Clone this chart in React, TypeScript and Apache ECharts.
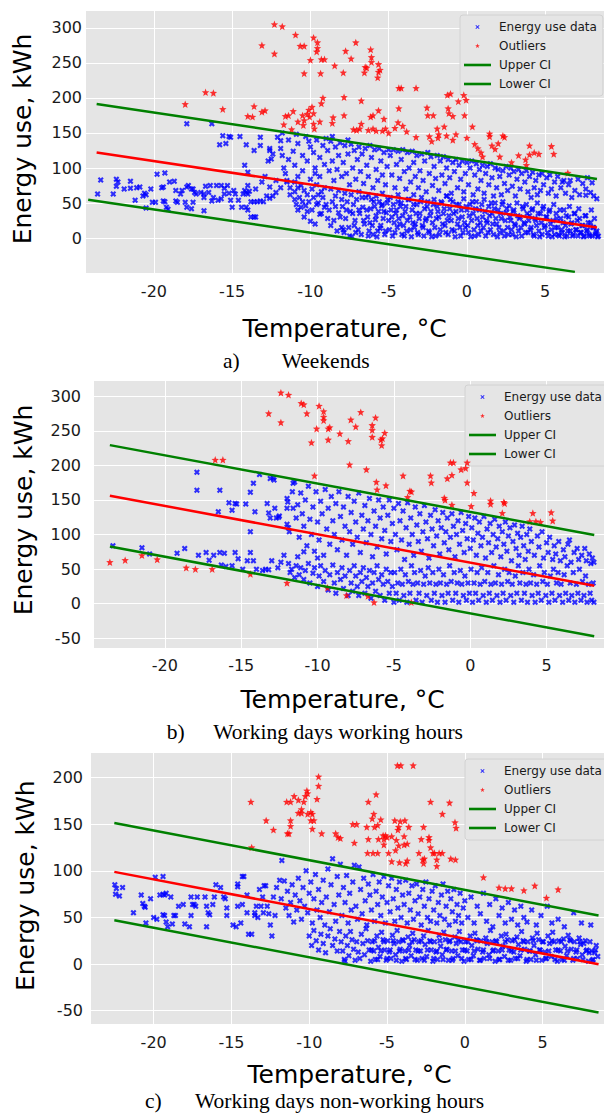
import React, { useEffect, useRef } from "react";
import * as echarts from "echarts";

// ---------- Panel a) Weekends ----------
const aBlueSparse = [
[-23.6,63],[-23.4,83],[-22.6,63],[-22.4,84],[-22.4,74],[-22.3,80],[-21.9,70],[-21.5,81],[-21.5,71],[-21.2,54],[-21.1,72],[-20.9,73],[-20.7,60],[-20.6,64],[-20.5,62],[-20.5,43],[-20.2,70],[-20.1,51],[-19.9,51],[-19.8,91],[-19.3,93],[-19.5,72],[-19.4,73],[-19.0,80],[-19.4,53],[-19.3,52],[-19.2,44],[-19.1,41],[-18.7,81],[-18.6,68],[-18.6,53],[-18.5,51],[-18.3,63],[-18.2,68],[-18.0,51],[-17.9,44],[-17.9,73],[-17.8,75],[-17.6,70],[-17.5,70],[-17.6,42],[-17.4,65],[-17.3,63],[-17.5,51],[-17.0,65],[-16.8,63],[-16.7,74],[-16.8,58],[-16.8,39],[-16.5,65],[-16.4,75],[-16.3,53],[-16.2,58],[-16.0,75],[-15.9,54],[-15.7,75],[-15.5,71],[-15.7,56],[-15.5,63],[-15.3,75],[-15.2,64],[-15.1,54],[-15.0,44],[-14.9,68],[-14.8,63],[-14.6,54],[-14.4,44],[-14.3,63],[-14.2,68],[-14.1,65],[-14.0,63],[-13.9,67],[-14.1,44],[-14.0,40],[-13.8,30],[-13.6,30],[-13.5,30],[-13.8,52],[-13.6,52],[-13.4,52],[-13.2,53],[-13.0,52],[-12.8,60],[-12.6,57],[-12.4,60],[-12.2,65],
[-17.9,163],[-16.3,163],[-15.8,133],[-15.6,146],[-15.2,145],[-15.1,144],[-15.4,135],[-14.5,145],[-14.1,133],[-13.6,125],[-14.2,104],[-14.0,94],[-13.2,144],[-13.2,132],[-12.6,128],[-12.4,120],[-12.5,113],[-12.7,110],[-12.1,144],[-11.9,139],[-11.8,150],[-12.6,125],
[-12.6,73],[-12.2,82],[-11.9,72],[-11.5,82],[-11.3,72],[-11.0,80],[-10.8,72],[-14.0,75],[-13.5,70],[-13.1,80],[-12.9,88]
];
const aBlueMid = [
[-11.9,128],[-11.8,118],[-11.7,100],[-11.6,92],[-11.4,140],[-11.4,112],[-11.1,124],[-11.0,104],[-10.8,135],[-10.8,88],[-10.5,118],[-10.5,96],[-10.4,68],[-10.3,145],[-10.2,110],[-10.0,130],[-10.0,84],[-9.9,70],[-9.8,122],[-9.7,100],[-9.6,140],[-9.6,76],[-9.4,115],[-9.4,88],[-9.3,66],[-9.2,132],[-9.1,105],[-9.1,72],[-9.0,142],[-11.3,62],[-11.0,66],[-10.2,62],[-9.5,62],[-10.6,75],[-11.5,80],[-9.7,92],[-10.9,148],[-10.1,138],
[-8.9,125],[-8.8,96],[-8.7,138],[-8.7,70],[-8.6,110],[-8.5,82],[-8.4,130],[-8.4,60],[-8.3,98],[-8.2,118],[-8.2,68],[-8.1,136],[-8.0,88],[-7.9,108],[-7.8,132],[-7.8,64],[-7.7,92],[-7.6,120],[-7.5,76],[-7.4,134],[-7.4,62],[-7.3,100],[-7.2,125],[-7.1,84],[-7.0,112],[-6.9,130],[-6.9,66],[-6.8,95],[-6.7,120],[-6.6,78],[-6.5,128],[-6.4,104],[-6.3,88],[-6.3,62],[-6.2,132],[-6.1,115],[-6.0,72],[-5.9,126],[-5.8,98],[-5.8,60],[-5.7,82],[-5.6,128],[-5.5,110],[-5.4,90],[-5.4,64],[-5.3,122],[-5.2,76],[-5.1,102],[-5.0,126],[-8.6,145],[-7.6,140],
[-4.9,118],[-4.8,90],[-4.7,126],[-4.6,72],[-4.5,105],[-4.4,124],[-4.4,62],[-4.3,85],[-4.2,112],[-4.1,126],[-4.0,95],[-3.9,70],[-3.8,122],[-3.7,100],[-3.6,80],[-3.5,124],[-3.4,108],[-3.4,62],[-3.3,88],[-3.2,118],[-3.1,72],[-3.0,96],[-2.9,120],[-2.8,82],[-2.7,110],[-2.6,66],[-2.5,122],[-2.4,92],[-2.3,116],[-2.2,75],[-2.1,102],[-2.0,85],[-1.9,118],[-1.8,68],[-1.7,110],[-1.6,90],[-1.5,116],[-1.4,78],[-1.3,100],[-1.3,60],[-1.2,112],[-1.1,86],[-1.0,64],[-0.9,108],[-0.8,95],[-0.7,112],[-0.6,72],[-0.5,104],[-0.4,84],[-0.3,110],[-0.2,66],[-0.1,92],[0.0,108],
[0.1,76],[0.2,100],[0.3,110],[0.4,62],[0.5,90],[0.6,106],[0.7,70],[0.8,98],[0.9,82],[1.0,104],[1.1,64],[1.2,92],[1.3,102],[1.4,76],[1.5,106],[1.6,86],[1.7,60],[1.8,100],[1.9,72],[2.0,98],[2.1,88],[2.2,62],[2.3,96],[2.4,78],[2.5,102],[2.6,68],[2.7,90],[2.8,100],[2.9,74],[3.0,95],[3.1,60],[3.2,84],[3.3,98],[3.4,70],[3.5,92],[3.7,80],[3.8,96],[3.9,66],[4.0,88],
[4.1,58],[4.2,94],[4.3,72],[4.4,82],[4.5,62],[4.6,90],[4.7,68],[4.8,92],[4.9,76],[5.1,86],[5.2,64],[5.3,90],[5.4,70],[5.6,80],[5.7,60],[5.8,88],[6.0,72],[6.1,80],[6.2,82],[6.3,64],[6.5,76],[6.6,82],[6.7,58],[6.9,68],[7.1,84],[7.2,62],[7.4,78],[7.6,70],[7.6,61],[7.7,86],[7.9,65],[8.0,79],[8.1,60],[8.3,56]
];
const aBlueLow = [
[-11.0,55],[-10.9,48],[-10.8,40],[-10.7,58],[-10.6,44],[-10.5,52],[-10.4,30],[-10.3,46],[-10.2,38],[-10.1,52],[-10.0,24],[-9.9,40],[-9.8,58],[-9.7,20],[-9.6,48],[-9.5,50],[-9.4,34],[-9.3,35],[-9.2,58],[-9.1,44],[-9.0,48],[-8.9,28],[-8.8,40],[-8.7,18],[-8.6,52],[-8.5,25],[-8.4,45],[-8.3,10],[-8.2,36],[-8.1,30],[-8.0,55],[-8.0,15],
[-7.95,45],[-7.9,12],[-7.85,8],[-7.75,28],[-7.7,40],[-7.65,52],[-7.55,15],[-7.5,3],[-7.45,38],[-7.35,2],[-7.3,35],[-7.25,48],[-7.2,18],[-7.15,25],[-7.05,55],[-7.1,8],[-6.95,12],[-6.9,40],[-6.85,35],[-6.75,5],[-6.7,58],[-6.65,44],[-6.6,25],[-6.55,20],[-6.45,58],[-6.4,40],[-6.35,30],[-6.3,3],[-6.25,10],[-6.2,22],[-6.15,42],[-6.1,55],[-6.05,18],[-6.0,5],[-5.95,52],[-5.9,45],[-5.85,26],[-5.8,32],[-5.75,2],[-5.7,10],[-5.65,38],[-5.6,52],[-5.55,14],[-5.5,18],[-5.45,46],[-5.4,48],[-5.35,28],[-5.3,38],[-5.25,5],[-5.2,10],[-5.15,36],[-5.1,50],[-5.05,55],[-5.0,25],
[-4.95,12],[-4.9,58],[-4.85,40],[-4.8,30],[-4.75,3],[-4.7,48],[-4.65,22],[-4.6,8],[-4.55,35],[-4.5,40],[-4.45,15],[-4.4,52],[-4.35,28],[-4.3,20],[-4.25,45],[-4.2,50],[-4.15,5],[-4.1,32],[-4.05,18],[-4.0,3],[-3.95,38],[-3.9,45],[-3.85,10],[-3.8,25],[-3.75,55],[-3.7,55],[-3.65,30],[-3.6,12],[-3.55,2],[-3.5,40],[-3.45,22],[-3.4,48],[-3.35,15],[-3.3,20],[-3.25,35],[-3.2,48],[-3.15,8],[-3.1,5],[-3.05,28],[-3.0,35],[-2.95,52],[-2.9,58],[-2.85,18],[-2.8,15],[-2.75,3],[-2.7,42],[-2.65,25],[-2.6,28],[-2.55,45],[-2.5,52],[-2.45,10],[-2.4,8],[-2.35,32],[-2.3,38],[-2.25,2],[-2.2,22],[-2.15,48],[-2.1,55],[-2.05,15],[-2.0,3],[-1.95,28],[-1.9,45],[-1.85,38],[-1.8,30],[-1.75,5],[-1.7,12],[-1.65,52],[-1.6,50],[-1.55,20],[-1.5,35],[-1.45,42],[-1.4,18],[-1.35,8],[-1.3,60],[-1.25,25],[-1.2,5],[-1.15,32],[-1.1,42],[-1.05,55],[-1.0,25],[-0.95,12],[-0.9,52],[-0.85,35],[-0.8,10],[-0.75,2],[-0.7,38],[-0.65,48],[-0.6,20],[-0.55,28],[-0.5,48],[-0.45,15],[-0.4,3],[-0.35,40],[-0.3,30],[-0.25,8],[-0.2,56],[-0.15,22],[-0.1,15],[-0.05,45],[0.0,40],
[0.05,18],[0.1,8],[0.15,32],[0.2,48],[0.25,2],[0.3,25],[0.35,52],[0.4,35],[0.45,12],[0.5,3],[0.55,42],[0.6,52],[0.65,28],[0.7,18],[0.75,5],[0.8,40],[0.85,22],[0.9,10],[0.95,48],[1.0,30],[1.05,15],[1.1,55],[1.15,38],[1.2,3],[1.25,25],[1.3,22],[1.35,8],[1.4,45],[1.45,32],[1.5,12],[1.55,50],[1.6,35],[1.65,20],[1.7,5],[1.75,42],[1.8,50],[1.85,28],[1.9,20],[1.95,2],[2.0,40],[2.05,15],[2.1,8],[2.15,35],[2.2,28],[2.25,48],[2.3,52],[2.35,10],[2.4,3],[2.45,25],[2.5,36],[2.55,42],[2.6,15],[2.65,5],[2.7,46],[2.75,30],[2.8,25],[2.85,12],[2.9,5],[2.95,38],[3.0,40],[3.05,20],[3.1,18],[3.15,2],[3.2,50],[3.25,32],[3.3,10],[3.35,28],[3.4,30],[3.45,15],[3.5,3],[3.55,45],[3.6,42],[3.65,22],[3.7,20],[3.75,8],[3.8,48],[3.85,35],[3.9,8],[3.95,25],[4.0,32],
[4.05,12],[4.1,15],[4.15,40],[4.2,42],[4.25,5],[4.3,3],[4.35,28],[4.4,25],[4.45,18],[4.5,50],[4.55,35],[4.6,10],[4.65,2],[4.7,35],[4.75,22],[4.8,5],[4.85,42],[4.9,45],[4.95,15],[5.0,18],[5.05,30],[5.1,30],[5.15,8],[5.2,3],[5.25,38],[5.3,40],[5.35,20],[5.4,12],[5.45,2],[5.5,25],[5.55,48],[5.6,5],[5.65,15],[5.7,35],[5.75,28],[5.8,15],[5.85,5],[5.9,3],[5.95,40],[6.0,28],[6.05,12],[6.1,8],[6.15,22],[6.2,40],[6.25,2],[6.3,18],[6.35,32],[6.4,3],[6.45,10],[6.5,30],[6.55,45],[6.6,10],[6.65,20],[6.7,22],[6.75,3],[6.8,5],[6.85,35],[6.9,35],[6.95,12],[7.0,12],[7.05,25],[7.1,3],[7.15,42],[7.2,28],[7.25,8],[7.3,8],[7.35,18],[7.4,18],[7.45,2],[7.5,3],[7.55,32],[7.6,32],[7.65,10],[7.7,12],[7.75,22],[7.8,5],[7.85,3],[7.9,22],[7.95,40],[8.0,3],[8.05,15],[8.1,15],[8.15,28],[8.2,5],[8.25,8],[8.3,10],[8.35,2],[8.4,3]
];
const aOutliers = [
[-18.0,191],[-16.7,208],[-16.2,207],[-15.6,184],[-13.6,188],[-14.0,174],[-13.7,173],[-13.1,180],[-12.9,182],[-13.1,275],[-12.3,305],[-11.8,302],[-12.3,263],[-10.95,290],[-10.65,274],[-11.6,174],[-11.4,175],[-11.1,181],[-11.7,162],[-11.2,155],[-10.8,166],[-10.4,274],[-10.4,235],[-9.8,286],[-9.55,279],[-9.55,271],[-9.6,266],[-10.0,254],[-9.3,255],[-9.1,255],[-9.35,235],[-9.3,192],[-9.2,200],[-8.45,246],[-7.9,236],[-7.75,267],[-7.4,256],[-7.1,279],[-6.55,236],[-6.5,244],[-6.4,243],[-6.15,269],[-6.1,258],[-6.1,251],[-5.65,248],[-5.65,237],[-5.7,229],[-5.55,240],[-7.85,201],[-6.75,196],[-4.35,214],[-4.2,214],[-3.25,214],[-1.25,204],[-1.05,206],[-0.2,204],[-0.05,197],[-0.55,195],[-9.9,187],[-10.1,183],[-10.2,177],[-10.5,175],[-10.4,168],[-10.45,161],[-9.8,178],[-9.8,163],[-9.75,156],[-9.4,166],[-10.05,173],[-8.55,172],[-8.6,164],[-7.85,175],[-7.25,155],[-7.05,154],[-6.85,156],[-6.75,163],[-6.3,154],[-6.0,156],[-5.8,153],[-6.15,173],[-6.0,175],[-5.65,182],[-5.3,170],[-5.4,153],[-5.2,156],[-5.0,150],[-4.6,157],[-4.4,165],[-4.1,160],[-3.85,152],[-4.35,185],[-3.25,144],[-2.55,186],[-2.5,175],[-2.15,175],[-2.4,145],[-2.25,138],[-1.9,156],[-1.8,148],[-1.85,143],[-1.45,159],[-1.2,185],[-1.15,178],[-0.9,174],[-1.3,146],[-0.9,140],[-0.15,175],[-0.7,148],[0.0,143],[0.35,159],[0.5,134],[0.7,128],[0.9,122],[1.0,116],[1.45,149],[1.45,145],[2.3,146],[2.4,144],[1.6,132],[1.8,127],[2.0,135],[2.1,116],[2.85,108],[3.3,118],[3.8,104],[3.75,112],[4.0,132],[4.3,122],[4.6,120],[5.4,131],[5.55,120],[4.0,119],[6.45,93]
];
const aRegLine = [[-23.66,122.1],[8.31,15.2]];
const aUpperCI = [[-23.66,191.4],[8.31,84.4]];
const aLowerCI = [[-24.2,54.8],[6.9,-48.2]];

// ---------- Panel b) Working days working hours ----------
const bBlueSparse = [
[-23.4,84],[-21.5,81],[-21.0,72],[-19.2,73],[-18.7,80],[-17.8,70],[-17.3,74],[-17.1,63],[-16.8,70],[-16.4,74],[-16.1,73],[-16.0,54],[-15.4,74],[-15.2,65],[-14.4,74],[-14.6,62],[-14.2,62],[-14.0,50],[-13.6,48],[-13.4,50],[-13.2,49],[-12.6,52],[-12.4,60],[-12.2,70],[-13.0,62],[-14.9,50],[-15.6,55],[-16.3,56],
[-17.9,190],[-17.9,164],[-16.4,164],[-16.5,133],[-15.8,146],[-15.4,145],[-15.3,144],[-15.6,135],[-14.7,144],[-14.4,161],[-14.1,133],[-14.2,174],[-13.8,187],[-14.4,104],[-13.3,145],[-13.2,131],[-13.1,124],[-13.1,181],[-12.9,182],[-12.85,179],[-12.8,138],[-12.7,124],[-12.55,125],[-12.5,127]
];
const bBlueMid = [
[-12.0,152],[-11.95,147],[-12.0,138],[-12.0,115],[-11.9,110],[-11.85,104],[-11.6,174],[-11.65,162],[-11.5,176],[-11.6,138],[-11.4,124],[-11.3,143],[-11.2,96],[-11.1,160],[-11.0,130],[-10.9,112],[-10.8,150],[-10.7,84],[-10.6,170],[-10.5,122],[-10.4,100],[-10.3,140],[-10.2,76],[-10.1,162],[-10.0,118],[-9.9,92],[-9.8,148],[-9.7,130],[-9.6,70],[-9.5,165],[-9.4,108],[-9.3,138],[-9.2,86],[-9.1,155],[-9.0,120],[-11.3,68],[-10.9,75],[-10.0,66],
[-8.9,100],[-8.8,145],[-8.7,78],[-8.6,162],[-8.5,126],[-8.4,92],[-8.3,140],[-8.2,112],[-8.1,70],[-8.0,155],[-7.9,104],[-7.8,132],[-7.7,86],[-7.6,148],[-7.5,118],[-7.4,96],[-7.3,160],[-7.2,74],[-7.1,128],[-7.0,108],[-6.9,142],[-6.8,88],[-6.7,120],[-6.6,152],[-6.5,100],[-6.4,68],[-6.3,134],[-6.2,112],[-6.1,82],[-6.0,150],[-5.9,124],[-5.8,94],[-5.7,140],[-5.6,106],[-5.5,72],[-5.4,128],[-5.3,150],[-5.2,90],[-5.1,116],[-5.0,138],
[-4.9,100],[-4.8,78],[-4.7,145],[-4.6,120],[-4.5,92],[-4.4,134],[-4.3,64],[-4.2,110],[-4.1,146],[-4.0,86],[-3.9,124],[-3.8,100],[-3.7,70],[-3.6,140],[-3.5,114],[-3.4,90],[-3.3,130],[-3.2,76],[-3.1,104],[-3.0,142],[-2.9,118],[-2.8,94],[-2.7,66],[-2.6,128],[-2.5,108],[-2.4,84],[-2.3,136],[-2.2,98],[-2.1,120],[-2.0,72],[-1.9,110],[-1.8,132],[-1.7,88],[-1.6,104],[-1.5,124],[-1.4,78],[-1.3,96],[-1.2,130],[-1.1,112],[-1.0,68],[-0.9,100],[-0.8,120],[-0.7,86],[-0.6,132],[-0.5,106],[-0.4,74],[-0.3,116],[-0.2,94],[-0.1,126],[0.0,80],
[0.1,110],[0.2,92],[0.3,124],[0.4,70],[0.5,102],[0.6,118],[0.7,84],[0.8,96],[0.9,126],[1.0,66],[1.1,108],[1.2,88],[1.3,116],[1.4,74],[1.5,100],[1.6,122],[1.7,82],[1.8,94],[1.9,112],[2.0,68],[2.1,104],[2.2,86],[2.3,118],[2.4,76],[2.5,98],[2.6,110],[2.7,62],[2.8,90],[2.9,114],[3.0,80],[3.1,102],[3.2,70],[3.3,96],[3.4,112],[3.5,84],[3.6,64],[3.7,100],[3.8,76],[3.9,108],[4.0,90],[4.2,70],[4.4,98],[4.5,82],[4.7,104],[4.8,66],[5.0,88],
[5.1,74],[5.2,96],[5.4,64],[5.5,84],[5.6,72],[5.8,90],[5.9,62],[6.1,78],[6.2,68],[6.4,86],[6.5,92],[6.6,60],[6.8,74],[7.0,80],[7.1,64],[7.3,70],[7.5,80],[7.6,62],[7.8,72],[7.9,58],[8.0,66],[8.1,60]
];
const bBlueLow = [
[-11.9,58],[-11.8,45],[-11.7,50],[-11.5,38],[-11.4,55],[-11.2,42],[-11.1,52],[-10.9,35],[-10.8,48],[-10.6,58],[-10.5,30],[-10.3,44],[-10.2,52],[-10.0,25],[-9.9,40],[-9.8,55],[-9.6,32],[-9.5,48],[-9.3,20],[-9.2,42],[-9.0,56],[-8.9,30],[-8.8,15],[-8.7,45],[-8.5,35],[-8.4,52],[-8.3,22],[-8.2,40],[-8.0,12],[-7.9,48],[-7.8,30],[-7.7,18],[-7.6,55],[-7.5,40],[-7.4,25],[-7.3,12],[-7.2,45],[-7.1,32],[-7.0,52],[-6.9,15],[-6.8,38],[-6.7,25],[-6.6,48],[-6.5,8],[-6.4,30],[-6.3,45],[-6.2,18],[-6.1,55],[-6.0,35],[-5.9,12],[-5.8,42],[-5.7,28],[-5.6,5],[-5.5,50],[-5.4,32],[-5.3,15],[-5.2,45],[-5.1,25],[-5.0,2],
[-4.95,45],[-4.85,15],[-4.75,30],[-4.65,5],[-4.55,50],[-4.45,28],[-4.35,12],[-4.25,42],[-4.15,2],[-4.05,32],[-3.95,15],[-3.85,55],[-3.75,28],[-3.65,45],[-3.55,5],[-3.45,30],[-3.35,15],[-3.25,48],[-3.15,2],[-3.05,28],[-2.95,40],[-2.85,12],[-2.75,52],[-2.65,30],[-2.55,5],[-2.45,45],[-2.35,15],[-2.25,28],[-2.15,2],[-2.05,50],[-1.95,30],[-1.85,12],[-1.75,42],[-1.65,2],[-1.55,28],[-1.45,15],[-1.35,55],[-1.25,32],[-1.15,5],[-1.05,45],[-0.95,15],[-0.85,30],[-0.75,2],[-0.65,48],[-0.55,28],[-0.45,12],[-0.35,40],[-0.25,5],[-0.15,30],[-0.05,15],
[0.05,50],[0.15,2],[0.25,30],[0.35,15],[0.45,45],[0.55,5],[0.65,28],[0.75,52],[0.85,12],[0.95,32],[1.05,2],[1.15,45],[1.25,15],[1.35,28],[1.45,5],[1.55,55],[1.65,30],[1.75,12],[1.85,42],[1.95,2],[2.05,28],[2.15,15],[2.25,50],[2.35,5],[2.45,32],[2.55,45],[2.65,12],[2.75,28],[2.85,2],[2.95,40],[3.05,15],[3.15,55],[3.25,30],[3.35,5],[3.45,45],[3.55,15],[3.65,28],[3.75,2],[3.85,50],[3.95,30],[4.05,12],[4.15,42],[4.25,2],[4.35,28],[4.45,15],[4.55,55],[4.65,5],[4.75,32],[4.85,45],[4.95,12],[5.05,28],[5.15,2],[5.25,40],[5.35,15],[5.45,50],[5.55,5],[5.65,30],[5.75,45],[5.85,12],[5.95,28],[6.05,2],[6.15,42],[6.25,15],[6.35,55],[6.45,5],[6.55,30],[6.65,12],[6.75,45],[6.85,2],[6.95,28],[7.05,15],[7.15,50],[7.25,5],[7.35,32],[7.45,12],[7.55,40],[7.65,2],[7.75,28],[7.85,15],[7.95,5],[8.05,30],[8.1,2]
];
const bOutliers = [
[-23.6,60],[-22.6,63],[-21.5,70],[-20.5,64],[-18.6,52],[-18.0,50],[-16.9,50],[-14.4,43],[-12.0,30],[-16.7,208],[-16.2,208],[-13.2,275],[-12.4,305],[-11.9,302],[-12.4,262],[-11.07,290],[-10.7,275],[-10.9,288],[-10.06,253],[-9.9,286],[-9.6,278],[-9.6,270],[-9.6,265],[-10.4,233],[-9.3,253],[-9.2,255],[-9.3,237],[-8.54,246],[-7.99,235],[-7.82,266],[-7.5,256],[-7.17,277],[-6.42,258],[-6.42,241],[-6.42,251],[-6.2,269],[-5.85,237],[-5.75,239],[-5.8,229],[-5.6,247],[-7.9,201],[-6.8,194],[-10.2,185],[-6.15,176],[-6.1,165],[-5.52,171],[-4.4,185],[-4.1,154],[-3.95,163],[-3.85,162],[-2.6,185],[-2.55,175],[-1.7,153],[-1.65,150],[-1.2,143],[-1.5,181],[-1.2,186],[-1.1,204],[-1.3,204],[-0.6,194],[-0.3,196],[-0.2,204],[-0.2,175],[0.24,160],[0.06,141],[1.33,149],[1.33,144],[2.2,147],[2.25,145],[2.1,131],[4.1,131],[3.9,119],[4.3,119],[4.6,118],[5.3,132],[5.4,120],[-9.35,23],[-8.1,12],[-6.7,11],[-6.3,2],[-3.86,2]
];
const bRegLine = [[-23.6,156.2],[8.12,26.0]];
const bUpperCI = [[-23.6,229.3],[8.12,99.5]];
const bLowerCI = [[-23.6,82.7],[8.12,-47.1]];

// ---------- Panel c) Working days non-working hours ----------
const cBlueSparse = [
[-22.5,85],[-22.45,75],[-22.4,81],[-22.2,73],[-22.0,82],[-21.3,55],[-20.8,74],[-20.7,65],[-20.6,62],[-20.55,61],[-20.5,44],[-20.2,70],[-20.0,50],[-19.8,48],[-19.9,93],[-19.4,94],[-19.6,74],[-19.4,75],[-19.3,74],[-19.2,76],[-19.4,53],[-19.3,52],[-19.2,45],[-19.1,40],[-18.9,72],[-18.8,43],[-18.7,52],[-18.6,52],[-18.4,62],[-18.1,64],[-18.0,43],[-17.7,40],[-17.6,72],[-17.5,64],[-17.4,64],[-17.3,62],[-17.2,72],[-17.6,52],[-16.7,72],[-16.6,62],[-16.5,55],[-16.4,53],[-16.6,40],[-16.2,64],[-16.1,72],[-16.0,85],[-15.7,82],[-15.5,72],[-15.4,70],[-15.3,60],[-15.3,52],[-14.9,42],[-14.6,62],[-14.7,40],[-14.6,86],[-14.6,83],[-14.3,94],[-14.2,94],[-14.3,64],[-14.0,74],[-13.9,32],[-13.7,32],[-14.0,55],[-14.4,44],[-13.5,52],[-13.4,62],[-13.2,80],[-13.0,72],[-12.9,84],[-12.8,84],[-12.7,62],[-12.6,54],[-12.5,42],[-12.4,30],[-12.3,72],[-12.2,52],[-12.1,82],[-13.5,55],[-13.3,50],[-13.1,62],[-12.95,55]
];
const cBlueMid = [
[-11.9,90],[-11.8,70],[-11.76,111],[-11.6,89],[-11.5,60],[-11.4,78],[-11.3,52],[-11.2,66],[-11.1,85],[-11.0,45],[-10.9,74],[-10.8,58],[-10.7,92],[-10.6,68],[-10.5,48],[-10.4,82],[-10.3,62],[-10.2,100],[-10.1,55],[-10.0,76],[-9.9,88],[-9.8,44],[-9.7,70],[-9.6,96],[-9.5,58],[-9.4,80],[-9.3,50],[-9.2,66],[-9.1,90],[-9.0,42],
[-8.9,72],[-8.8,102],[-8.7,56],[-8.6,85],[-8.5,113],[-8.4,64],[-8.3,46],[-8.2,94],[-8.1,74],[-8.0,107],[-7.9,52],[-7.8,82],[-7.7,66],[-7.6,95],[-7.5,44],[-7.4,76],[-7.3,58],[-7.2,88],[-7.1,106],[-7.0,62],[-6.9,48],[-6.8,104],[-6.7,80],[-6.6,54],[-6.5,92],[-6.4,68],[-6.3,42],[-6.2,86],[-6.1,74],[-6.0,58],[-5.9,96],[-5.8,46],[-5.7,78],[-5.6,64],[-5.5,88],[-5.4,52],[-5.3,72],[-5.2,94],[-5.1,44],[-5.0,66],
[-4.9,84],[-4.8,56],[-4.7,92],[-4.6,70],[-4.5,46],[-4.4,80],[-4.3,60],[-4.2,88],[-4.1,50],[-4.0,74],[-3.9,64],[-3.8,90],[-3.7,44],[-3.6,76],[-3.5,58],[-3.4,84],[-3.3,48],[-3.2,68],[-3.1,86],[-3.0,54],[-2.9,72],[-2.8,42],[-2.7,80],[-2.6,62],[-2.5,88],[-2.4,50],[-2.3,70],[-2.2,46],[-2.1,78],[-2.0,58],[-1.9,84],[-1.8,44],[-1.7,66],[-1.6,52],[-1.5,74],[-1.4,86],[-1.3,48],[-1.2,62],[-1.1,78],[-1.0,42],[-0.9,70],[-0.8,56],[-0.7,80],[-0.6,46],[-0.5,64],[-0.4,52],[-0.3,76],[-0.2,44],[-0.1,60],[0.0,68],
[0.2,50],[0.4,72],[0.6,44],[0.8,62],[1.0,54],[1.2,76],[1.4,46],[1.6,64],[1.8,40],[2.0,70],[2.2,52],[2.4,60],[2.6,44],[2.8,66],[3.0,48],[3.2,58],[3.4,42],[3.6,62],[3.8,50],[4.0,45],[4.3,58],[4.6,42],[4.9,52],[5.3,62],[5.6,44],[6.0,48],[6.4,40],[7.0,55],[7.5,44],[8.1,42]
];
const cBlueLow = [
[-10.0,30],[-9.85,20],[-9.7,36],[-9.55,25],[-9.4,15],[-9.25,32],[-9.1,22],[-8.95,12],[-8.8,30],[-8.65,38],[-8.5,20],[-8.35,27],[-8.2,14],[-8.05,35],[-7.7,3],
[-7.95,24],[-7.85,14],[-7.75,5],[-7.65,30],[-7.55,20],[-7.45,9],[-7.35,35],[-7.25,26],[-7.15,16],[-7.05,4],[-6.95,24],[-6.85,13],[-6.75,6],[-6.65,32],[-6.55,22],[-6.45,10],[-6.35,38],[-6.25,25],[-6.15,15],[-6.05,3],[-5.95,24],[-5.85,14],[-5.75,5],[-5.65,30],[-5.55,18],[-5.45,8],[-5.35,34],[-5.25,26],[-5.15,15],[-5.05,4],[-4.95,25],[-4.85,13],[-4.75,6],[-4.65,31],[-4.55,22],[-4.45,10],[-4.35,36],[-4.25,24],[-4.15,16],[-4.05,3],[-3.95,25],[-3.85,14],[-3.75,5],[-3.65,29],[-3.55,20],[-3.45,9],[-3.35,33],[-3.25,26],[-3.15,15],[-3.05,4],[-2.95,24],[-2.85,14],[-2.75,6],[-2.65,30],[-2.55,21],[-2.45,8],[-2.35,36],[-2.25,25],[-2.15,15],[-2.05,3],[-1.95,24],[-1.85,13],[-1.75,5],[-1.65,31],[-1.55,19],[-1.45,10],[-1.35,34],[-1.25,26],[-1.15,16],[-1.05,4],[-0.95,25],[-0.85,14],[-0.75,6],[-0.65,29],[-0.55,22],[-0.45,9],[-0.35,35],[-0.25,24],[-0.15,15],[-0.05,3],
[0.05,24],[0.15,14],[0.25,5],[0.35,30],[0.45,20],[0.55,9],[0.65,33],[0.75,26],[0.85,16],[0.95,4],[1.05,25],[1.15,13],[1.25,6],[1.35,28],[1.45,22],[1.55,10],[1.65,36],[1.75,24],[1.85,15],[1.95,3],[2.05,24],[2.15,14],[2.25,5],[2.35,30],[2.45,19],[2.55,8],[2.65,32],[2.75,26],[2.85,15],[2.95,4],[3.05,25],[3.15,13],[3.25,6],[3.35,29],[3.45,21],[3.55,9],[3.65,35],[3.75,25],[3.85,16],[3.95,3],[4.05,24],[4.15,14],[4.25,5],[4.35,28],[4.45,20],[4.55,10],[4.65,33],[4.75,26],[4.85,15],[4.95,4],[5.05,24],[5.15,13],[5.25,6],[5.35,30],[5.45,22],[5.55,8],[5.65,34],[5.75,24],[5.85,15],[5.95,3],[6.05,25],[6.15,14],[6.25,5],[6.35,27],[6.45,19],[6.55,9],[6.65,31],[6.75,26],[6.85,16],[6.95,4],[7.05,24],[7.15,13],[7.25,6],[7.35,28],[7.45,21],[7.55,10],[7.65,22],[7.75,25],[7.85,15],[7.95,3],[8.05,24],[8.15,14],[8.25,5],[8.35,12],[8.45,20],[8.55,8],
[-6.0,15],[-5.8,25],[-5.6,5],[-5.4,14],[-5.2,24],[-5.0,6],[-4.8,15],[-4.6,25],[-4.4,4],[-4.2,14],[-4.0,26],[-3.8,6],[-3.6,15],[-3.4,24],[-3.2,5],[-3.0,14],[-2.8,25],[-2.6,4],[-2.4,15],[-2.2,24],[-2.0,6],[-1.8,14],[-1.6,25],[-1.4,5],[-1.2,15],[-1.0,24],[-0.8,4],[-0.6,14],[-0.4,26],[-0.2,6],[0.0,15],[0.2,24],[0.4,5],[0.6,14],[0.8,25],[1.0,4],[1.2,15],[1.4,24],[1.6,6],[1.8,14],[2.0,25],[2.2,5],[2.4,15],[2.6,24],[2.8,4],[3.0,14],[3.2,26],[3.4,6],[3.6,15],[3.8,24],[4.0,5],[4.2,14],[4.4,25],[4.6,4],[4.8,15],[5.0,24],[5.2,6],[5.4,14],[5.6,25],[5.8,5],[6.0,15],[6.2,24],[6.4,4],[6.6,14],[6.8,25],[7.0,6],[7.2,15],[7.4,24],[7.6,5],[7.8,14],[8.0,12],[8.2,4],[8.4,15]
];
const cOutliers = [
[-13.75,174],[-12.77,154],[-12.3,144],[-13.7,125],[-11.45,174],[-11.2,174],[-10.97,180],[-11.2,154],[-11.2,148],[-11.4,140],[-11.3,140],[-10.7,176],[-10.35,174],[-10.25,180],[-10.15,186],[-10.1,183],[-10.7,162],[-10.5,162],[-10.1,161],[-9.9,163],[-9.8,161],[-10.5,166],[-9.9,154],[-9.7,154],[-9.8,145],[-9.4,201],[-9.4,191],[-9.5,177],[-9.2,140],[-8.3,140],[-8.15,136],[-8.0,135],[-7.2,150],[-6.95,150],[-7.1,130],[-6.2,174],[-5.7,182],
[-6.3,147],[-6.2,134],[-5.95,156],[-5.8,147],[-5.85,161],[-5.6,149],[-5.4,155],[-5.25,138],[-5.2,134],[-5.1,138],[-5.55,134],[-5.0,136],[-5.9,119],[-6.25,119],[-5.6,119],[-5.2,128],[-4.9,119],[-4.5,154],[-3.85,154],[-4.33,213],[-4.11,213],[-3.32,213],
[-4.25,147],[-4.15,153],[-4.3,144],[-4.7,137],[-4.4,133],[-4.25,127],[-3.9,128],[-3.7,129],[-4.45,122],[-4.7,110],[-4.2,109],[-3.8,108],[-3.7,111],[-3.9,137],[-3.6,147],
[-2.95,119],[-2.65,147],[-2.65,108],[-2.8,134],[-2.3,136],[-2.2,125],[-2.3,133],[-2.05,119],[-1.8,105],[-1.45,119],[-1.65,119],[-1.95,119],[-2.2,174],[-0.98,173],[-1.44,161],[-0.63,152],[-0.56,146],[-2.6,113],[-2.7,112],[-1.8,112],[-0.9,113],[-0.6,112],[1.2,93],[2.2,82],[2.6,81],[3.0,81],[3.8,79],[4.5,84],[5.25,71],[6.0,80]
];
const cRegLine = [[-22.53,98.9],[8.6,-0.1]];
const cUpperCI = [[-22.53,151.4],[8.6,52.1]];
const cLowerCI = [[-22.53,47.1],[8.6,-51.9]];

const captions = [
  { tag: "a)", text: "Weekends" },
  { tag: "b)", text: "Working days working hours" },
  { tag: "c)", text: "Working days non-working hours" },
];
const Y_TITLE = "Energy use, kWh";
const X_TITLE = "Temperature, °C";

const FONT = '"DejaVu Sans", Verdana, sans-serif';
const SERIF = '"Liberation Serif", "Times New Roman", serif';
const X_SYMBOL = "path://M0,2.5L2.5,0L5,2.5L7.5,0L10,2.5L7.5,5L10,7.5L7.5,10L5,7.5L2.5,10L0,7.5L2.5,5Z";
const STAR_SYMBOL = "path://M5,0L6.3,3.3L10,3.6L7.1,5.9L8.2,9.6L5,7.6L1.8,9.6L2.9,5.9L0,3.6L3.7,3.3Z";
const X_ICON = "path://M0,0M20,20M6.5,7.7L7.7,6.5L10,8.8L12.3,6.5L13.5,7.7L11.2,10L13.5,12.3L12.3,13.5L10,11.2L7.7,13.5L6.5,12.3L8.8,10Z";
const STAR_ICON = "path://M0,0M20,20M10,6L11,8.7L13.9,8.8L11.6,10.6L12.4,13.5L10,11.8L7.6,13.5L8.4,10.6L6.1,8.8L9,8.7Z";
const LINE_ICON = "path://M0,0L27,0L27,2.6L0,2.6Z";

const panels = [
  {
    blue: [...aBlueSparse, ...aBlueMid, ...aBlueLow], out: aOutliers, reg: aRegLine, up: aUpperCI, lo: aLowerCI,
    grid: { left: 86, top: 11, width: 519, height: 262 }, xr: [-24.34, 8.76], yr: [-49.8, 324], yMargin: 4, xMargin: 10,
    legend: { left: 460, top: 15 }, yT: [22.5, 139], xT: [344.6, 328], cap: { tagX: 223, textX: 281.7, y: 360.6 },
  },
  {
    blue: [...bBlueSparse, ...bBlueMid, ...bBlueLow], out: bOutliers, reg: bRegLine, up: bUpperCI, lo: bLowerCI,
    grid: { left: 94, top: 381, width: 511, height: 267 }, xr: [-24.64, 8.76], yr: [-64, 322], yMargin: 13, xMargin: 9,
    legend: { left: 465, top: 385 }, yT: [23.5, 510], xT: [342.7, 699.7], cap: { tagX: 166.7, textX: 213.3, y: 731.6 },
  },
  {
    blue: [...cBlueSparse, ...cBlueMid, ...cBlueLow], out: cOutliers, reg: cRegLine, up: cUpperCI, lo: cLowerCI,
    grid: { left: 91, top: 753, width: 526, height: 271 }, xr: [-24.03, 8.95], yr: [-64.3, 226.4], yMargin: 8, xMargin: 10,
    legend: { left: 465, top: 759 }, yT: [25, 885.7], xT: [349.7, 1074.7], cap: { tagX: 145, textX: 195, y: 1101.4 },
  },
];

function buildOption() {
  const grid: any[] = [];
  const xAxis: any[] = [];
  const yAxis: any[] = [];
  const legend: any[] = [];
  const series: any[] = [];
  const graphic: any[] = [];
  panels.forEach((p, i) => {
    grid.push({ ...p.grid, show: true, backgroundColor: "#e5e5e5", borderWidth: 0, containLabel: false });
    const axisCommon = {
      type: "value",
      gridIndex: i,
      splitNumber: 7,
      axisLine: { show: false },
      axisTick: { show: false },
      splitLine: { show: true, showMinLine: false, showMaxLine: false, lineStyle: { color: "#ffffff", width: 1 } },
    };
    xAxis.push({
      ...axisCommon, min: p.xr[0], max: p.xr[1],
      axisLabel: { fontFamily: FONT, fontSize: 16, color: "#1a1a1a", margin: p.xMargin, showMinLabel: false, showMaxLabel: false },
    });
    yAxis.push({
      ...axisCommon, min: p.yr[0], max: p.yr[1],
      axisLabel: { fontFamily: FONT, fontSize: 16, color: "#1a1a1a", margin: p.yMargin, showMinLabel: false, showMaxLabel: false },
    });
    legend.push({
      left: p.legend.left, top: p.legend.top, orient: "vertical",
      itemWidth: 27, itemHeight: 12, itemGap: 7,
      padding: [6, 6, 6, 4],
      backgroundColor: "#e5e5e5", borderColor: "#d2d2d2", borderWidth: 1, borderRadius: 3,
      selectedMode: false,
      textStyle: { fontFamily: FONT, fontSize: 12, color: "#1a1a1a", lineHeight: 12, padding: [0, 0, 0, 3] },
      data: [
        { name: "Energy use data", icon: X_ICON },
        { name: "Outliers", icon: STAR_ICON },
        { name: "Upper CI", icon: LINE_ICON },
        { name: "Lower CI", icon: LINE_ICON },
      ],
    });
    series.push({
      type: "scatter", name: "Energy use data", xAxisIndex: i, yAxisIndex: i,
      data: p.blue, symbol: X_SYMBOL, symbolSize: 6, itemStyle: { color: "#0000ff" }, z: 2, silent: true,
    });
    series.push({
      type: "line", name: "Regression", xAxisIndex: i, yAxisIndex: i, data: p.reg,
      symbol: "none", lineStyle: { color: "#ff0000", width: 2.5 }, itemStyle: { color: "#ff0000" }, z: 3, silent: true,
    });
    series.push({
      type: "scatter", name: "Outliers", xAxisIndex: i, yAxisIndex: i,
      data: p.out, symbol: STAR_SYMBOL, symbolSize: 7.5, itemStyle: { color: "#ff0000" }, z: 4, silent: true,
    });
    series.push({
      type: "line", name: "Upper CI", xAxisIndex: i, yAxisIndex: i, data: p.up,
      symbol: "none", lineStyle: { color: "#008000", width: 2.5 }, itemStyle: { color: "#008000" }, z: 5, silent: true,
    });
    series.push({
      type: "line", name: "Lower CI", xAxisIndex: i, yAxisIndex: i, data: p.lo,
      symbol: "none", lineStyle: { color: "#008000", width: 2.5 }, itemStyle: { color: "#008000" }, z: 5, silent: true,
    });
    graphic.push({
      type: "text", x: p.yT[0], y: p.yT[1], rotation: Math.PI / 2,
      style: { text: Y_TITLE, fontFamily: FONT, fontSize: 25, fill: "#000", align: "center", verticalAlign: "middle", textAlign: "center", textVerticalAlign: "middle" },
    });
    graphic.push({
      type: "text", x: p.xT[0], y: p.xT[1],
      style: { text: X_TITLE, fontFamily: FONT, fontSize: 25, fill: "#000", align: "center", verticalAlign: "middle", textAlign: "center", textVerticalAlign: "middle" },
    });
    graphic.push({
      type: "text", x: p.cap.tagX, y: p.cap.y,
      style: { text: captions[i].tag, fontFamily: SERIF, fontSize: 21.5, fill: "#000", align: "left", verticalAlign: "middle", textAlign: "left", textVerticalAlign: "middle" },
    });
    graphic.push({
      type: "text", x: p.cap.textX, y: p.cap.y,
      style: { text: captions[i].text, fontFamily: SERIF, fontSize: 21.5, fill: "#000", align: "left", verticalAlign: "middle", textAlign: "left", textVerticalAlign: "middle" },
    });
  });
  return { animation: false, backgroundColor: "#ffffff", grid, xAxis, yAxis, legend, series, graphic };
}

export default function App() {
  const ref = useRef<HTMLDivElement>(null);
  useEffect(() => {
    if (!ref.current) return;
    const chart = echarts.init(ref.current, undefined, { renderer: "svg" });
    chart.setOption(buildOption() as any);
    return () => chart.dispose();
  }, []);
  return (
    <div
      ref={ref}
      style={{ position: "fixed", left: 0, top: 0, width: 604, height: 1113, background: "#fff" }}
    />
  );
}
